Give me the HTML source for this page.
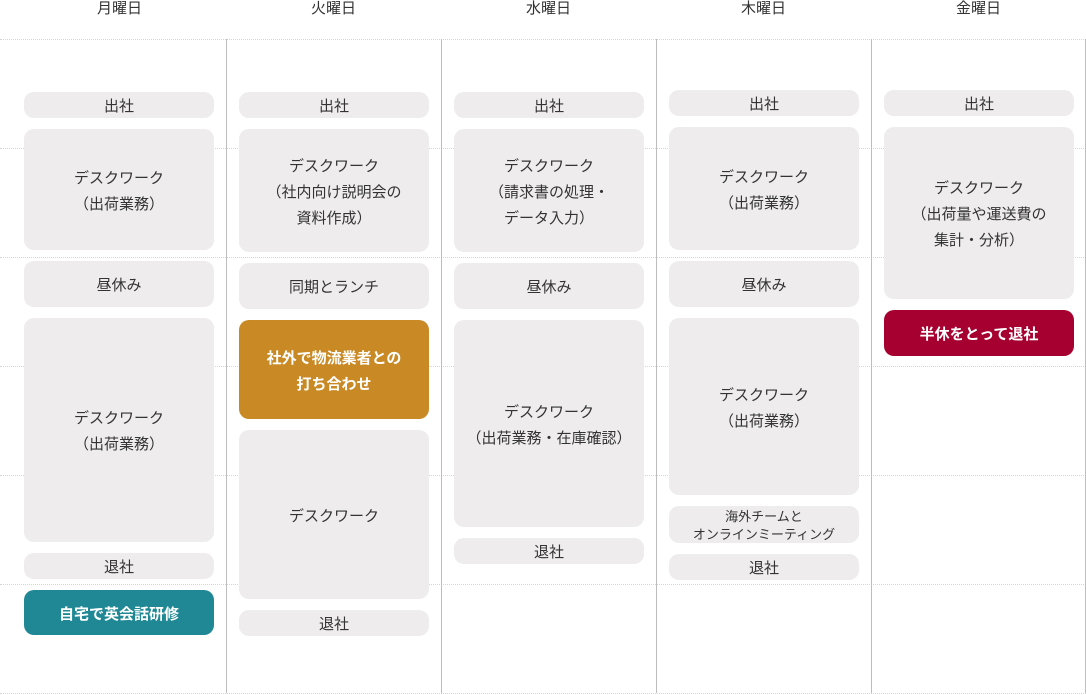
<!DOCTYPE html><html><head><meta charset="utf-8"><style>
*{margin:0;padding:0;box-sizing:border-box}
body{width:1086px;height:695px;background:#fff;position:relative;overflow:hidden;font-family:"Liberation Sans","Noto Sans CJK JP",sans-serif;color:#333}
.h{position:absolute;top:-1px;width:215px;text-align:center;font-size:15px;line-height:20px}
.hl{position:absolute;left:0;width:1086px;border-top:1px dotted #d4d4d4;height:0}
.vl{position:absolute;top:39px;height:654px;width:0;border-left:1px solid #bdbdbd}
.b{position:absolute;width:190px;background:#eeecec;border-radius:10px;display:flex;align-items:center;justify-content:center;text-align:center;font-size:15px;line-height:26px;padding-top:4px}
.w{color:#fff;font-weight:bold}
</style></head><body>
<div class="h" style="left:12px">月曜日</div>
<div class="h" style="left:226px">火曜日</div>
<div class="h" style="left:441px">水曜日</div>
<div class="h" style="left:656px">木曜日</div>
<div class="h" style="left:871px">金曜日</div>
<div class="hl" style="top:39px"></div><div class="hl" style="top:148px"></div><div class="hl" style="top:257px"></div><div class="hl" style="top:366px"></div><div class="hl" style="top:475px"></div><div class="hl" style="top:584px"></div><div class="hl" style="top:693px"></div>
<div class="vl" style="left:226px"></div><div class="vl" style="left:441px"></div><div class="vl" style="left:656px"></div><div class="vl" style="left:871px"></div><div class="vl" style="left:1085px"></div>

<div class="b" style="left:24px;top:92px;height:26px">出社</div>
<div class="b" style="left:24px;top:129px;height:121px">デスクワーク<br>（出荷業務）</div>
<div class="b" style="left:24px;top:261px;height:46px">昼休み</div>
<div class="b" style="left:24px;top:318px;height:224px">デスクワーク<br>（出荷業務）</div>
<div class="b" style="left:24px;top:553px;height:26px">退社</div>
<div class="b w" style="left:24px;top:590px;height:45px;background:#1f8894">自宅で英会話研修</div>

<div class="b" style="left:239px;top:92px;height:26px">出社</div>
<div class="b" style="left:239px;top:129px;height:123px">デスクワーク<br>（社内向け説明会の<br>資料作成）</div>
<div class="b" style="left:239px;top:263px;height:46px">同期とランチ</div>
<div class="b w" style="left:239px;top:320px;height:99px;background:#c98a25">社外で物流業者との<br>打ち合わせ</div>
<div class="b" style="left:239px;top:430px;height:169px">デスクワーク</div>
<div class="b" style="left:239px;top:610px;height:26px">退社</div>

<div class="b" style="left:454px;top:92px;height:26px">出社</div>
<div class="b" style="left:454px;top:129px;height:123px">デスクワーク<br>（請求書の処理・<br>データ入力）</div>
<div class="b" style="left:454px;top:263px;height:46px">昼休み</div>
<div class="b" style="left:454px;top:320px;height:207px">デスクワーク<br>（出荷業務・在庫確認）</div>
<div class="b" style="left:454px;top:538px;height:26px">退社</div>

<div class="b" style="left:669px;top:90px;height:26px">出社</div>
<div class="b" style="left:669px;top:127px;height:123px">デスクワーク<br>（出荷業務）</div>
<div class="b" style="left:669px;top:261px;height:46px">昼休み</div>
<div class="b" style="left:669px;top:318px;height:177px">デスクワーク<br>（出荷業務）</div>
<div class="b" style="left:669px;top:506px;height:37px;font-size:13px;line-height:18px;padding-top:2px">海外チームと<br>オンラインミーティング</div>
<div class="b" style="left:669px;top:554px;height:26px">退社</div>

<div class="b" style="left:884px;top:90px;height:26px">出社</div>
<div class="b" style="left:884px;top:127px;height:172px">デスクワーク<br>（出荷量や運送費の<br>集計・分析）</div>
<div class="b w" style="left:884px;top:310px;height:46px;background:#a5002f">半休をとって退社</div>
</body></html>
